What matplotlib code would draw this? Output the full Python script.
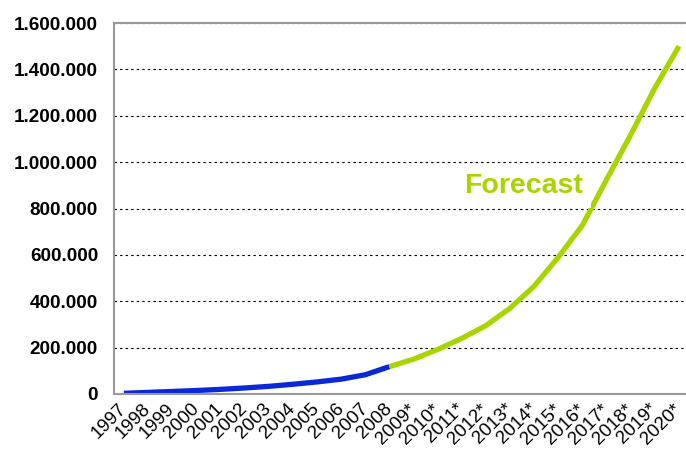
import matplotlib
matplotlib.use("Agg")
import matplotlib.pyplot as plt
from matplotlib.ticker import FuncFormatter

plt.rcParams['font.family'] = ['Liberation Sans', 'DejaVu Sans']

# data
years = ["1997", "1998", "1999", "2000", "2001", "2002", "2003", "2004",
         "2005", "2006", "2007", "2008", "2009*", "2010*", "2011*", "2012*",
         "2013*", "2014*", "2015*", "2016*", "2017*", "2018*", "2019*", "2020*"]
actual = [3000, 7000, 11000, 15000, 20000, 26000, 33000, 42000,
          52000, 64000, 83000, 118000]
forecast = [118000, 150000, 192000, 240000, 295000, 370000, 465000,
            590000, 728000, 925000, 1118000, 1320000, 1500000]

BLUE = "#0A28D8"
GREEN = "#A8D400"

fig = plt.figure(figsize=(6.86, 4.5), dpi=100)
ax = fig.add_axes([114/686, 1 - 394/450, 1 - 114/686, (394 - 23)/450])

x_act = list(range(len(actual)))
x_fc = list(range(len(actual) - 1, len(years)))
ax.plot(x_act, actual, color=BLUE, lw=3.8, solid_capstyle="butt", solid_joinstyle="round")
ax.plot(x_fc, forecast, color=GREEN, lw=3.8, solid_capstyle="butt", solid_joinstyle="round")

ax.set_xlim(-0.41, 23.29)
ax.set_ylim(0, 1600000)
ax.set_yticks(range(0, 1600001, 200000))
ax.yaxis.set_major_formatter(FuncFormatter(lambda v, p: f"{int(v):,}".replace(",", ".")))
ax.set_xticks(range(len(years)))
ax.set_xticklabels(years, rotation=45, ha="right", va="center", rotation_mode="anchor", fontsize=13.5)
ax.tick_params(axis="y", length=0, pad=11.5, labelsize=13.6)
ax.tick_params(axis="x", length=0, pad=9)
for lab in ax.get_yticklabels():
    lab.set_fontweight("bold")

ax.grid(axis="y", color="black", lw=0.8, linestyle=(0, (2.2, 2.8)))
ax.set_axisbelow(True)
for side in ["left", "bottom", "top"]:
    ax.spines[side].set_color("#999999")
    ax.spines[side].set_linewidth(1.5)
ax.spines["right"].set_visible(False)

ax.text(16.54, 896000, "Forecast", color=GREEN, fontsize=20.5, fontweight="bold",
        ha="center", va="center",
        bbox=dict(facecolor="white", edgecolor="none", boxstyle="square,pad=0.3"))

fig.savefig("out.png", dpi=100)
